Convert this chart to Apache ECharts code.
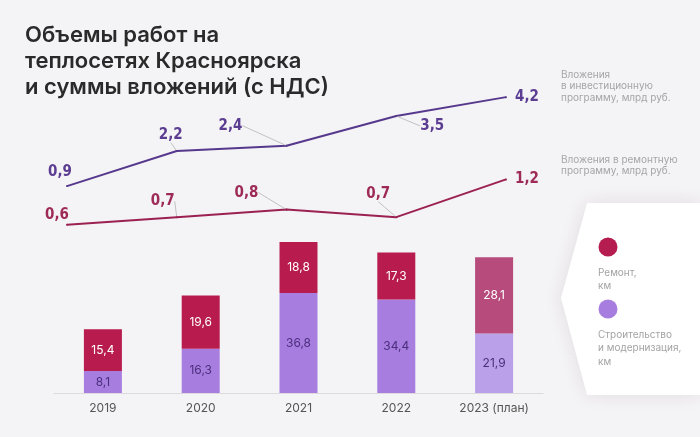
<!DOCTYPE html>
<html>
<head>
<meta charset="utf-8">
<script src="https://cdn.jsdelivr.net/npm/echarts@6/dist/echarts.min.js"></script>
<style>
  html, body { margin: 0; padding: 0; background: #f4f3f5; }
  #chart { width: 700px; height: 437px; }
</style>
</head>
<body>
<div id="chart"></div>
<script>
// данные
var years = ['2019', '2020', '2021', '2022', '2023 (план)'];
var repairKm = [15.4, 19.6, 18.8, 17.3, 28.1];
var buildKm = [8.1, 16.3, 36.8, 34.4, 21.9];
var investBln = [0.9, 2.2, 2.4, 3.5, 4.2];
var repairBln = [0.6, 0.7, 0.8, 0.7, 1.2];

// смещения подписей линий (dx, dy) и наличие выноски
var investOffsets = [[-7, -14], [-6, -16], [-56, -20], [36, 10], [21, 0]];
var repairOffsets = [[-10, -10], [-14, -16], [-40, -17], [-18, -23], [21, 0]];
var leader = [false, true, true, true, false];

var comma = function (v) { return String(v).replace('.', ','); };

var chart = echarts.init(document.getElementById('chart'));

var lineData = function (arr) {
  return arr.map(function (v, i) {
    return { value: v, labelLine: { show: leader[i] } };
  });
};

var barColor = function (base, plan) {
  return function (p) { return p.dataIndex === 4 ? plan : base; };
};

var lineLabel = function (color) {
  return {
    show: true, position: 'inside', color: color, fontSize: 15,
    fontWeight: 'bold', fontFamily: 'DejaVu Sans Condensed',
    formatter: function (p) { return comma(p.value); }
  };
};

chart.setOption({
  backgroundColor: '#f4f3f5',
  animation: false,
  grid: [
    { left: 54, right: 157, top: 230, bottom: 44 },
    { left: 67, right: 194, top: 80, bottom: 167 }
  ],
  xAxis: [
    {
      type: 'category', gridIndex: 0, data: years,
      axisLine: { lineStyle: { color: '#dcdadd' } },
      axisTick: { show: false },
      axisLabel: { color: '#555', fontSize: 12, fontFamily: 'Inter', margin: 9 }
    },
    { type: 'category', gridIndex: 1, data: years, boundaryGap: false, show: false }
  ],
  yAxis: [
    { type: 'value', gridIndex: 0, min: 0, max: 60, show: false },
    { type: 'value', gridIndex: 1, min: -2.21, max: 4.835, show: false },
    { type: 'value', gridIndex: 1, min: 0, max: 2.517, show: false }
  ],
  series: [
    {
      name: 'Строительство и модернизация, км', type: 'bar', stack: 'km',
      xAxisIndex: 0, yAxisIndex: 0, barWidth: 38, data: buildKm,
      itemStyle: { color: barColor('#a77de0', '#baa0e8') },
      label: {
        show: true, position: 'inside', color: '#4b2f7c', fontSize: 12, fontFamily: 'Inter',
        formatter: function (p) { return comma(p.value); }
      }
    },
    {
      name: 'Ремонт, км', type: 'bar', stack: 'km',
      xAxisIndex: 0, yAxisIndex: 0, barWidth: 38, data: repairKm,
      itemStyle: { color: barColor('#b81c4f', '#b64b7c') },
      label: {
        show: true, position: 'inside', color: '#fff', fontSize: 12, fontFamily: 'Inter',
        formatter: function (p) { return comma(p.value); }
      }
    },
    {
      name: 'Вложения в инвестиционную программу', type: 'line',
      xAxisIndex: 1, yAxisIndex: 1, data: lineData(investBln),
      symbol: 'circle', symbolSize: 2,
      lineStyle: { color: '#56388d', width: 2 },
      itemStyle: { color: '#56388d' },
      label: lineLabel('#5b3d92'),
      labelLine: { show: true, lineStyle: { color: '#b5b5b5', width: 0.8 } },
      labelLayout: function (p) {
        var o = investOffsets[p.dataIndex];
        return { dx: o[0], dy: o[1] };
      }
    },
    {
      name: 'Вложения в ремонтную программу', type: 'line',
      xAxisIndex: 1, yAxisIndex: 2, data: lineData(repairBln),
      symbol: 'circle', symbolSize: 2,
      lineStyle: { color: '#9b2152', width: 2 },
      itemStyle: { color: '#9b2152' },
      label: lineLabel('#9e2a57'),
      labelLine: { show: true, lineStyle: { color: '#b5b5b5', width: 0.8 } },
      labelLayout: function (p) {
        var o = repairOffsets[p.dataIndex];
        return { dx: o[0], dy: o[1] };
      }
    }
  ],
  graphic: [
    {
      type: 'text', left: 25, top: 22,
      style: {
        text: 'Объемы работ на\nтеплосетях Красноярска\nи суммы вложений (с НДС)',
        font: '600 22px Inter', fill: '#2a2a2a', lineHeight: 26
      }
    },
    {
      type: 'text', left: 561, top: 69,
      style: {
        text: 'Вложения\nв инвестиционную\nпрограмму, млрд руб.',
        font: '10px Inter', fill: '#a6a6a6', lineHeight: 11.5
      }
    },
    {
      type: 'text', left: 561, top: 154,
      style: {
        text: 'Вложения в ремонтную\nпрограмму, млрд руб.',
        font: '10px Inter', fill: '#a6a6a6', lineHeight: 11.5
      }
    },
    {
      type: 'polygon', z: 1,
      shape: { points: [[587, 203], [700, 203], [700, 395], [587, 395], [561, 298]] },
      style: { fill: '#fff', shadowBlur: 18, shadowColor: 'rgba(80,40,80,0.10)' }
    },
    { type: 'circle', z: 2, shape: { cx: 608, cy: 247, r: 9.5 }, style: { fill: '#b51d50' } },
    {
      type: 'text', z: 2, left: 598, top: 266,
      style: { text: 'Ремонт,\nкм', font: '10px Inter', fill: '#a3a3a3', lineHeight: 13 }
    },
    { type: 'circle', z: 2, shape: { cx: 608, cy: 309, r: 9.5 }, style: { fill: '#a77ddf' } },
    {
      type: 'text', z: 2, left: 598, top: 328,
      style: { text: 'Строительство\nи модернизация,\nкм', font: '10px Inter', fill: '#a3a3a3', lineHeight: 13.5 }
    }
  ]
});
</script>
</body>
</html>
